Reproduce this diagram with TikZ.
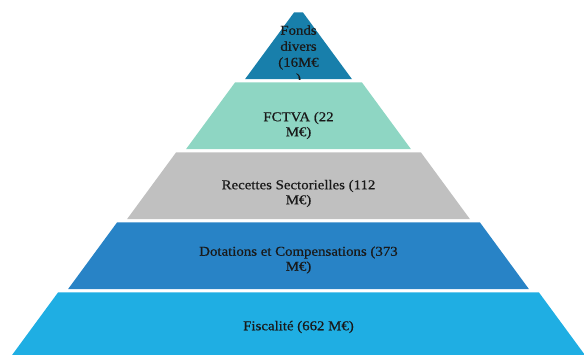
\documentclass[tikz,border=0pt]{standalone}
\usepackage{fontspec}
\setmainfont{Liberation Serif}[FakeStretch=1.1,FakeBold=0.6]
\begin{document}
\begin{tikzpicture}[x=1pt,y=1pt,
  lbl/.style={align=center,inner sep=0pt,text=black!90,font=\fontsize{13.5}{15}\selectfont}]
\definecolor{cTop}{RGB}{24,127,171}
\definecolor{cFct}{RGB}{142,214,195}
\definecolor{cRec}{RGB}{192,192,192}
\definecolor{cDot}{RGB}{40,131,198}
\definecolor{cFis}{RGB}{31,174,227}
\useasboundingbox (0,0) rectangle (584,355);
\clip (0,0) rectangle (584,355);
% apex: Fonds divers
\fill[cTop] (294,342.5) -- (303,342.5) -- (352,275.8) -- (245,275.8) -- cycle;
\begin{scope}
  \clip (0,275.8) rectangle (584,355);
  \node[lbl,font=\fontsize{13.5}{16}\selectfont] (fonds) at (298.5,299.5) {Fonds\\divers\\(16M€\\)};
\end{scope}
% FCTVA
\fill[cFct] (235,272.5) -- (362,272.5) -- (411,205.8) -- (186,205.8) -- cycle;
\node[lbl] (fctva) at (298.5,229.5) {FCTVA (22\\M€)};
% Recettes sectorielles
\fill[cRec] (176,202.5) -- (421,202.5) -- (470,135.8) -- (127,135.8) -- cycle;
\node[lbl] (recettes) at (298.5,161.5) {Recettes Sectorielles (112\\M€)};
% Dotations et compensations
\fill[cDot] (117,132.5) -- (480,132.5) -- (529,65.8) -- (68,65.8) -- cycle;
\node[lbl] (dotations) at (298.5,95) {Dotations et Compensations (373\\M€)};
% Fiscalite (base)
\fill[cFis] (58,62.5) -- (539,62.5) -- (588,-4.2) -- (9,-4.2) -- cycle;
\node[lbl] (fiscalite) at (298.5,28) {Fiscalité (662 M€)};
\end{tikzpicture}
\end{document}
